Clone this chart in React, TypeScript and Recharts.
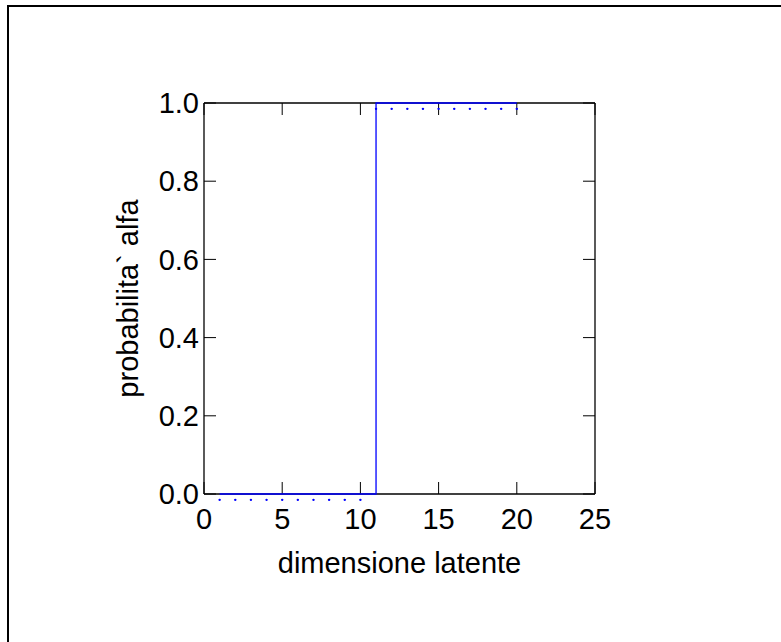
import React from 'react';
import { LineChart, Line, XAxis, YAxis } from 'recharts';

const dims = [1, 2, 3, 4, 5, 6, 7, 8, 9, 10, 11, 12, 13, 14, 15, 16, 17, 18, 19, 20];
const alfaStep = [0, 0, 0, 0, 0, 0, 0, 0, 0, 0, 1, 1, 1, 1, 1, 1, 1, 1, 1, 1];
const alfaDots = [-0.015, -0.015, -0.015, -0.015, -0.015, -0.015, -0.015, -0.015, -0.015, -0.015,
  0.985, 0.985, 0.985, 0.985, 0.985, 0.985, 0.985, 0.985, 0.985, 0.985];
const xTicks = [0, 5, 10, 15, 20, 25];
const yTicks = [0, 0.2, 0.4, 0.6, 0.8, 1.0];

const data = dims.map((d, i) => ({ dim: d, step: alfaStep[i], dots: alfaDots[i] }));

const FONT = 'Liberation Sans, Arial, Helvetica, sans-serif';
const tickStyle = { fontSize: 29, fill: '#000', fontFamily: FONT };
const blank = () => '';

export default function App() {
  return (
    <div style={{ position: 'absolute', left: 0, top: 0, width: 781, height: 642, overflow: 'hidden', background: '#fff' }}>
      <div style={{ position: 'absolute', left: 7, top: 5, width: 900, height: 900, border: '2px solid #000' }} />
      <div style={{ position: 'absolute', left: 0, top: 0 }}>
        <LineChart width={781} height={642} data={data} margin={{ top: 102, right: 185, bottom: 58, left: 84 }}>
          <XAxis
            xAxisId="main"
            dataKey="dim"
            type="number"
            domain={[0, 25]}
            ticks={xTicks}
            interval={0}
            height={90}
            tickSize={-12}
            tickMargin={26}
            tick={tickStyle}
            stroke="#000"
            axisLine={{ stroke: '#000', strokeWidth: 1.3 }}
            tickLine={{ stroke: '#000' }}
            label={{ value: 'dimensione latente', position: 'insideBottom', offset: 11, fontSize: 29, fill: '#000', fontFamily: FONT }}
          />
          <XAxis
            xAxisId="top"
            orientation="top"
            type="number"
            dataKey="dim"
            domain={[0, 25]}
            allowDataOverflow
            ticks={xTicks}
            interval={0}
            height={1}
            tickSize={-12}
            tickFormatter={blank}
            stroke="#000"
            axisLine={{ stroke: '#000', strokeWidth: 1.3 }}
            tickLine={{ stroke: '#000' }}
          />
          <YAxis yAxisId="dots" orientation="left" type="number" domain={[0, 1]} allowDataOverflow hide width={0} />
          <YAxis
            yAxisId="main"
            type="number"
            domain={[0, 1]}
            ticks={yTicks}
            interval={0}
            width={120}
            tickSize={-12}
            tickMargin={17}
            tick={tickStyle}
            tickFormatter={(v: number) => v.toFixed(1)}
            stroke="#000"
            axisLine={{ stroke: '#000', strokeWidth: 1.3 }}
            tickLine={{ stroke: '#000' }}
            label={{ value: 'probabilita` alfa', angle: -90, position: 'insideLeft', offset: 44, fontSize: 29, fill: '#000', fontFamily: FONT, style: { textAnchor: 'middle' } }}
          />
          <YAxis
            yAxisId="right"
            orientation="right"
            type="number"
            domain={[0, 1]}
            allowDataOverflow
            ticks={yTicks}
            interval={0}
            width={1}
            tickSize={-12}
            tickFormatter={blank}
            stroke="#000"
            axisLine={{ stroke: '#000', strokeWidth: 1.3 }}
            tickLine={{ stroke: '#000' }}
          />
          <Line
            xAxisId="main"
            yAxisId="main"
            dataKey="step"
            type="stepAfter"
            stroke="#0000ff"
            strokeWidth={1.3}
            dot={false}
            activeDot={false}
            zIndex={650}
            isAnimationActive={false}
          />
          <Line
            xAxisId="main"
            yAxisId="dots"
            dataKey="dots"
            type="linear"
            stroke="none"
            dot={{ r: 1.2, fill: '#0000ff', stroke: 'none', strokeWidth: 16, clipDot: false }}
            activeDot={false}
            zIndex={650}
            isAnimationActive={false}
          />
        </LineChart>
      </div>
    </div>
  );
}
